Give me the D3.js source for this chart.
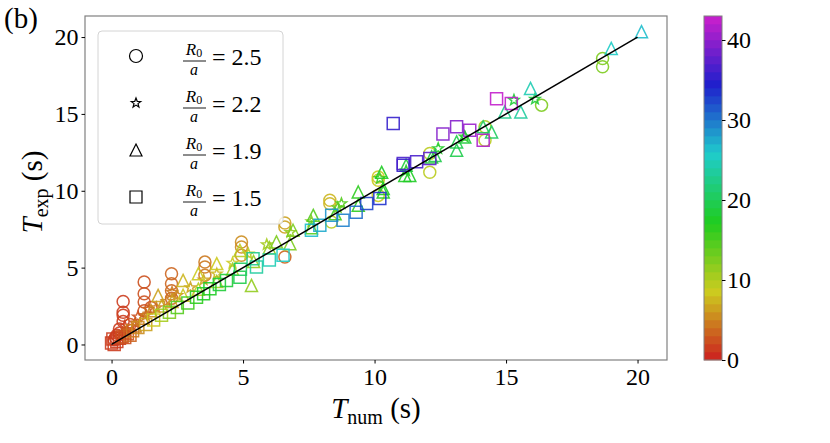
<!DOCTYPE html>
<html><head><meta charset="utf-8">
<script src="https://cdn.jsdelivr.net/npm/d3@7"></script>
<style>body{margin:0;background:#fff}svg{display:block}text{font-family:"Liberation Serif","DejaVu Serif",serif;fill:#000}</style>
</head><body>
<script>
// [Tnum, Texp, colour value]
const circles = [
 [0.1,0.3,1],[0.15,0.45,1],[0.2,0.6,1],[0.3,1.0,1],[0.3,0.75,1],[0.44,1.5,1],[0.44,1.9,1],[0.44,2.1,1],[0.44,2.8,1],[0.7,1.3,2],
 [1.24,2.2,2],[1.24,2.76,2],[1.24,3.3,2],[1.24,4.06,2],[1.5,2.4,2],
 [2.28,3.0,3],[2.28,3.5,3],[2.28,3.95,3],[2.28,4.6,3],
 [3.55,4.5,4],[3.55,5.04,4],[3.55,5.36,4],
 [4.94,5.8,5],[4.94,6.34,5],[4.94,6.67,5],
 [6.59,7.64,6],[6.59,7.9,6],[6.59,5.69,3],
 [8.3,9.16,7],[8.3,9.38,7],[8.36,7.97,9],
 [10.14,9.7,8],[10.14,10.68,8],[10.14,10.9,8],
 [12.1,12.42,9],[12.1,11.2,9],
 [14.2,13.29,9],[14.2,14.16,10],
 [16.35,15.57,12],[18.67,18.6,12],[18.67,18.07,12]
];
const stars = [
 [0.3,0.5,1],[0.5,1.2,1],[0.6,0.9,2],[0.9,1.4,2],[1.0,1.8,2],[1.3,1.9,3],[1.4,2.3,3],[1.7,2.4,4],
 [2.1,2.8,4],[2.3,3.4,4],[2.5,3.2,5],[3.0,3.7,6],[3.5,4.2,6],[4.0,4.6,7],[4.6,5.3,8],[5.2,5.9,9],
 [5.9,6.5,10],[6.8,7.3,11],[7.6,8.0,12],[8.6,8.9,13],[8.74,9.17,14],[10.2,10.8,15],[11.2,11.3,17],
 [12.42,12.75,17],[13.43,13.5,17],[15.3,15.9,18],[16.1,15.96,18]
];
const triangles = [
 [0.5,0.8,3],[0.9,1.2,4],[1.2,1.7,4],[1.5,2.2,5],[1.77,3.19,6],[1.9,2.5,6],[2.3,2.8,6],[2.72,4.17,7],
 [2.72,3.2,8],[3.3,4.6,8],[3.3,3.6,9],[4.0,5.26,8],[4.0,4.1,10],[4.88,6.12,9],[4.6,4.9,10],[5.32,3.84,11],
 [5.4,5.4,11],[6.0,6.3,11],[6.27,6.67,12],[6.78,6.56,12],[6.9,7.43,12],[7.6,7.6,14],[7.67,8.4,14],
 [8.5,8.5,15],[9.38,9.92,16],[9.38,9.06,16],[10.27,11.2,17],[10.33,10.14,17],[10.33,9.92,17],
 [11.15,11.0,17],[11.34,11.0,17],[11.2,11.66,18],[12.17,12.2,18],[12.3,12.3,19],[13.12,12.64,19],
 [13.12,13.18,19],[13.43,13.5,18],[14.13,14.16,20],[14.45,13.83,20],[14.95,15.13,22],[15.56,15.13,23],
 [15.93,16.66,24],[19.0,19.26,25],[20.15,20.35,26]
];
const squares = [
 [0.0,0.1,1],[0.1,0.0,1],[0.05,0.35,1],[0.2,0.2,1],[0.3,0.4,1],[0.4,0.5,2],[0.5,0.45,2],[0.6,0.7,2],
 [0.7,0.6,3],[0.8,0.9,4],[1.0,1.1,5],[1.3,1.3,6],[1.6,1.6,8],[1.9,1.9,10],[2.2,2.1,12],[2.5,2.4,14],
 [2.9,2.7,15],[3.23,3.08,16],[3.5,3.3,17],[3.74,3.63,17],[4.1,3.9,18],[4.37,4.17,18],[4.88,4.38,19],
 [4.9,4.9,20],[5.38,5.58,22],[5.51,5.04,23],[6.0,5.5,24],[6.52,5.8,25],[7.6,7.43,26],[7.92,7.75,27],
 [8.37,8.4,28],[8.8,8.08,29],[9.3,8.6,30],[9.7,9.17,32],[10.2,9.49,33],[11.09,11.66,35],[11.09,11.77,36],
 [10.71,14.38,35],[11.6,11.88,36],[12.1,12.1,37],[12.6,13.7,39],[13.12,14.16,39],[13.62,13.94,40],
 [14.13,13.29,41],[14.64,15.98,43],[15.2,15.68,42]
];
const xTicks = [0,5,10,15,20];
const yTicks = [0,5,10,15,20];
const cTicks = [0,10,20,30,40];
const legendLabels = ["2.5","2.2","1.9","1.5"];
const cMax = 43;

const W=830,H=443;
const svg=d3.select("body").append("svg").attr("width",W).attr("height",H);
const L=85,R=667,T=16,B=360;
const x=d3.scaleLinear().domain([-1.01,21.12]).range([L,R]);
const y=d3.scaleLinear().domain([-1.01,21.37]).range([B,T]);

function hsv(h,s,v){const C=v*s,hp=h/60,X=C*(1-Math.abs(hp%2-1)),m=v-C;let r=0,g=0,b=0;
 if(hp<1){r=C;g=X}else if(hp<2){r=X;g=C}else if(hp<3){g=C;b=X}else if(hp<4){g=X;b=C}else if(hp<5){r=X;b=C}else{r=C;b=X}
 return d3.rgb((r+m)*255,(g+m)*255,(b+m)*255).formatHex();}
function cmap(c){const b=Math.max(0,Math.min(cMax-1,Math.floor(c)));return hsv((b+0.5)/cMax*300,0.85,0.8);}

function starPath(ro,ri){let p="";for(let i=0;i<10;i++){const r=i%2?ri:ro,a=-Math.PI/2+i*Math.PI/5;p+=(i?"L":"M")+(r*Math.cos(a)).toFixed(2)+","+(r*Math.sin(a)).toFixed(2);}return p+"Z";}
const shapes={
 circle:r=>`M${r},0A${r},${r} 0 1,1 ${-r},0A${r},${r} 0 1,1 ${r},0Z`,
 star:r=>starPath(r,r*0.42),
 triangle:r=>`M0,${-r}L${r},${r}L${-r},${r}Z`,
 square:r=>`M${-r},${-r}H${r}V${r}H${-r}Z`
};

const plot=svg.append("g");
const series=[[circles,"circle",6],[stars,"star",5.5],[triangles,"triangle",6],[squares,"square",6]];
series.forEach(([data,shp,r])=>{
 plot.selectAll(null).data(data).enter().append("path")
  .attr("d",shapes[shp](r)).attr("transform",d=>`translate(${x(d[0])},${y(d[1])})`)
  .attr("fill","none").attr("stroke",d=>cmap(d[2])).attr("stroke-width",1.5).attr("stroke-opacity",0.9);
});
plot.append("line").attr("x1",x(0)).attr("y1",y(0)).attr("x2",x(20)).attr("y2",y(20)).attr("stroke","#000").attr("stroke-width",1.5);

svg.append("rect").attr("x",L).attr("y",T).attr("width",R-L).attr("height",B-T).attr("fill","none").attr("stroke","#808080").attr("stroke-width",1.2);

const fs=24, ff='"Liberation Serif",serif';
const gx=svg.append("g").attr("transform",`translate(0,${B})`).call(d3.axisBottom(x).tickValues(xTicks).tickSize(3.5).tickFormat(d3.format("d")));
gx.select(".domain").remove();
gx.selectAll("line").attr("stroke","#000");
gx.selectAll("text").attr("y",25).attr("dy",null).style("font-size",fs+"px").style("font-family",ff);
const gy=svg.append("g").attr("transform",`translate(${L},0)`).call(d3.axisLeft(y).tickValues(yTicks).tickSize(3.5).tickFormat(d3.format("d")));
gy.select(".domain").remove();
gy.selectAll("line").attr("stroke","#000");
gy.selectAll("text").attr("x",-6.5).attr("dy","0.33em").style("font-size",fs+"px").style("font-family",ff);

const xl=svg.append("text").attr("x",376).attr("y",418).attr("text-anchor","middle").style("font-size","29px");
xl.append("tspan").text("T").style("font-style","italic");
xl.append("tspan").text("num").style("font-size","20px").attr("dy",6);
xl.append("tspan").text(" (s)").attr("dy",-6);
const yl=svg.append("text").attr("transform","translate(42,192) rotate(-90)").attr("text-anchor","middle").style("font-size","29px");
yl.append("tspan").text("T").style("font-style","italic");
yl.append("tspan").text("exp").style("font-size","20px").attr("dy",6);
yl.append("tspan").text(" (s)").attr("dy",-6);

svg.append("text").attr("x",4).attr("y",28).style("font-size","29px").text("(b)");

svg.append("rect").attr("x",98).attr("y",31).attr("width",185).attr("height",193).attr("rx",4)
 .attr("fill","#fff").attr("fill-opacity",0.8).attr("stroke","#d4d4d4").attr("stroke-width",1);
const legShapes=[["circle",6.5],["star",5],["triangle",6],["square",6]];
legendLabels.forEach((lab,i)=>{
 const cy=56+i*47;
 svg.append("path").attr("d",shapes[legShapes[i][0]](legShapes[i][1])).attr("transform",`translate(136,${cy})`)
  .attr("fill","none").attr("stroke","#000").attr("stroke-width",1.2);
 const num=svg.append("text").attr("x",194).attr("y",cy-1).attr("text-anchor","middle").style("font-size","17px");
 num.append("tspan").text("R").style("font-style","italic");
 num.append("tspan").text("0").style("font-size","12px").attr("dy",2);
 svg.append("line").attr("x1",183).attr("x2",206).attr("y1",cy+5).attr("y2",cy+5).attr("stroke","#000").attr("stroke-width",0.9);
 svg.append("text").attr("x",194).attr("y",cy+19).attr("text-anchor","middle").style("font-size","16px").style("font-style","italic").text("a");
 svg.append("text").attr("x",212).attr("y",cy+9).style("font-size","24px").text("= "+lab);
});

const cbx=704,cbw=18;
const cy_=d3.scaleLinear().domain([0,cMax]).range([360,16]);
svg.append("g").selectAll("rect").data(d3.range(cMax)).enter().append("rect")
 .attr("x",cbx).attr("width",cbw).attr("y",d=>cy_(d+1)).attr("height",d=>cy_(d)-cy_(d+1)+0.3)
 .attr("fill",d=>cmap(d+0.5));
svg.append("rect").attr("x",cbx).attr("y",16).attr("width",cbw).attr("height",344).attr("fill","none").attr("stroke","#808080").attr("stroke-width",1);
const gc=svg.append("g").attr("transform",`translate(${cbx+cbw},0)`).call(d3.axisRight(cy_).tickValues(cTicks).tickSize(3.5).tickFormat(d3.format("d")));
gc.select(".domain").remove();
gc.selectAll("line").attr("stroke","#000");
gc.selectAll("text").attr("x",5).attr("dy","0.33em").style("font-size",fs+"px").style("font-family",ff);
</script>
</body></html>
